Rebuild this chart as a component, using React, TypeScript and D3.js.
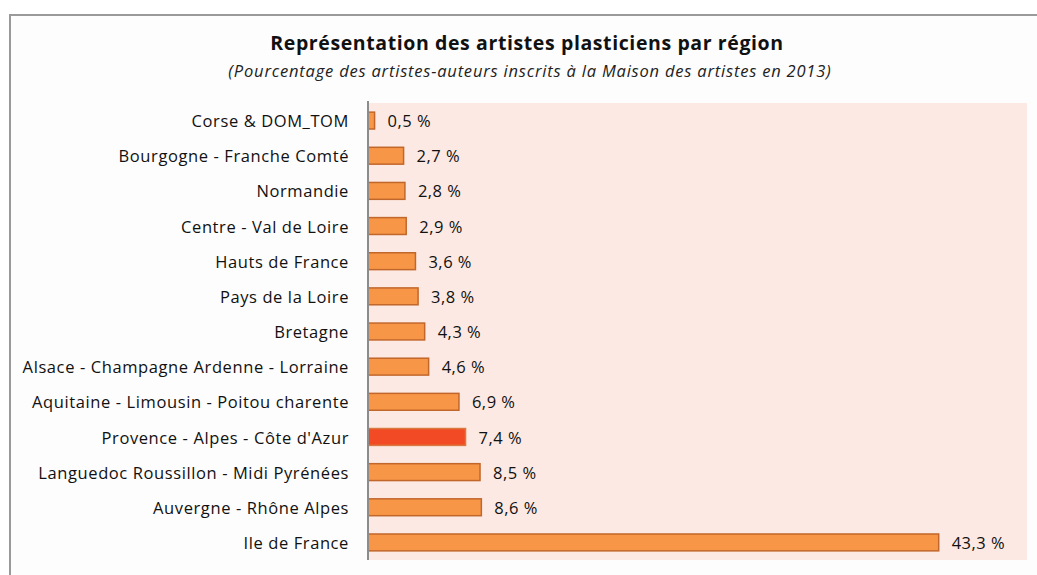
import React from "react";
import * as d3 from "d3";

const categories = [
  "Corse & DOM_TOM",
  "Bourgogne - Franche Comté",
  "Normandie",
  "Centre - Val de Loire",
  "Hauts de France",
  "Pays de la Loire",
  "Bretagne",
  "Alsace - Champagne Ardenne - Lorraine",
  "Aquitaine - Limousin - Poitou charente",
  "Provence - Alpes - Côte d'Azur",
  "Languedoc Roussillon - Midi Pyrénées",
  "Auvergne - Rhône Alpes",
  "Ile de France",
];
const values = [0.5, 2.7, 2.8, 2.9, 3.6, 3.8, 4.3, 4.6, 6.9, 7.4, 8.5, 8.6, 43.3];
const highlighted = ["Provence - Alpes - Côte d'Azur"];
const title = "Représentation des artistes plasticiens par région";
const subtitle = "(Pourcentage des artistes-auteurs inscrits à la Maison des artistes en 2013)";

const W = 1037;
const H = 575;
const FONT = "'Open Sans', sans-serif";

export default function App() {
  const plot = { left: 368, right: 1027, top: 103, bottom: 560 };
  const x = d3.scaleLinear().domain([0, 50]).range([plot.left, plot.right]);
  const y = d3
    .scaleBand<string>()
    .domain(categories)
    .range([plot.top, plot.bottom])
    .paddingInner(0.52)
    .paddingOuter(0.26);
  const fmt = (v: number) => v.toFixed(1).replace(".", ",") + " %";

  return (
    <svg
      width={W}
      height={H}
      style={{ position: "absolute", left: 0, top: 0, fontFamily: FONT }}
    >
      <rect x={0} y={0} width={W} height={H} fill="#ffffff" />
      <rect x={10} y={15} width={W + 10} height={H + 10} fill="#fdfdfd" stroke="#9a9a9a" strokeWidth={2} />
      <text x={527} y={50} textAnchor="middle" fontSize={19.5} fontWeight={700} letterSpacing={0.6} fill="#111">
        {title}
      </text>
      <text x={530} y={77} textAnchor="middle" fontSize={16.5} fontStyle="italic" letterSpacing={0.8} fill="#222">
        {subtitle}
      </text>
      <rect
        x={plot.left}
        y={plot.top}
        width={plot.right - plot.left}
        height={plot.bottom - plot.top}
        fill="#fce9e3"
      />
      {categories.map((c, i) => {
        const v = values[i];
        const by = y(c)!;
        const bh = y.bandwidth();
        const hi = highlighted.includes(c);
        return (
          <g key={c}>
            <rect
              x={x(0)}
              y={by}
              width={x(v) - x(0)}
              height={bh}
              fill={hi ? "#f24a24" : "#f79646"}
              stroke={hi ? "#d9793f" : "#c2672c"}
              strokeWidth={1.5}
            />
            <text
              x={x(v) + 13}
              y={by + bh / 2}
              dy="0.4em"
              fontSize={16.5}
              letterSpacing={0.5}
              fill="#111"
            >
              {fmt(v)}
            </text>
            <text
              x={349}
              y={by + bh / 2}
              dy="0.4em"
              textAnchor="end"
              fontSize={16.5}
              letterSpacing={0.6}
              fill="#111"
            >
              {c}
            </text>
          </g>
        );
      })}
      <line
        x1={plot.left}
        x2={plot.left}
        y1={plot.top - 2}
        y2={plot.bottom}
        stroke="#8c8c8c"
        strokeWidth={2}
      />
    </svg>
  );
}
